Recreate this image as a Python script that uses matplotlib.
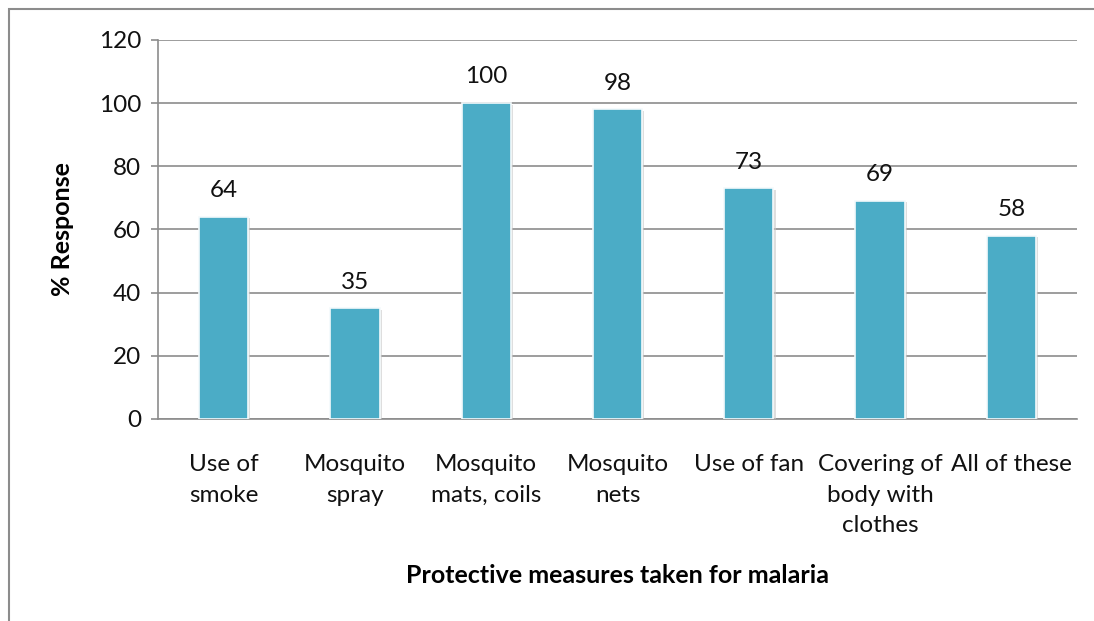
import numpy as np
import matplotlib.pyplot as plt
import matplotlib.patheffects as pe
from matplotlib.patches import Rectangle

# Data
categories = ["Use of\nsmoke", "Mosquito\nspray", "Mosquito\nmats, coils", "Mosquito\nnets",
              "Use of fan", "Covering of\nbody with\nclothes", "All of these"]
values = [64, 35, 100, 98, 73, 69, 58]
yticks = [0, 20, 40, 60, 80, 100, 120]

plt.rcParams['font.family'] = ['Lato', 'DejaVu Sans']

fig = plt.figure(figsize=(10.94, 6.21), dpi=100)
ax = fig.add_axes([0.1444, 0.3253, 0.8401, 0.6103])

grid_col = '#8c8c8c'
fs = 17.5
x = np.arange(len(categories))
bars = ax.bar(x, values, width=0.375, color='#4BACC6', edgecolor='#f4fafc', linewidth=1.2,
              zorder=3)
for b in bars:
    b.set_path_effects([pe.SimplePatchShadow(offset=(1.5, -1), shadow_rgbFace='#c8c8c8', alpha=0.6),
                        pe.Normal()])

# value labels
for xi, v in zip(x, values):
    ax.text(xi, v + 5.0, str(v), ha='center', va='bottom', fontsize=fs, color='#111111')

ax.set_xlim(-0.5, len(categories) - 0.5)
ax.set_ylim(0, 120)
ax.set_yticks(yticks)
ax.yaxis.grid(True, color=grid_col, linewidth=1.2, zorder=0)
ax.set_axisbelow(True)

for side in ['top', 'right']:
    ax.spines[side].set_visible(False)
ax.spines['left'].set_color(grid_col)
ax.spines['left'].set_linewidth(1.2)
ax.spines['bottom'].set_color(grid_col)
ax.spines['bottom'].set_linewidth(1.2)

ax.set_xticks(x)
ax.set_xticklabels(categories, fontsize=fs, linespacing=1.58, color='#111111')
ax.tick_params(axis='x', length=0, pad=25)
ax.tick_params(axis='y', length=5, color=grid_col, width=1.2, labelsize=fs,
               labelcolor='#111111', pad=7)

ax.set_xlabel('Protective measures taken for malaria', fontsize=18, fontweight='bold',
              labelpad=20)
ax.set_ylabel('% Response', fontsize=18, fontweight='bold', labelpad=18)

# outer chart border
fig.patches.append(Rectangle((8.5 / 1094, -0.05), 1.2, 1 - 9 / 621 + 0.05,
                             transform=fig.transFigure, fill=False,
                             edgecolor='#8c8c8c', linewidth=1.5))

fig.savefig('out.png', dpi=100)
